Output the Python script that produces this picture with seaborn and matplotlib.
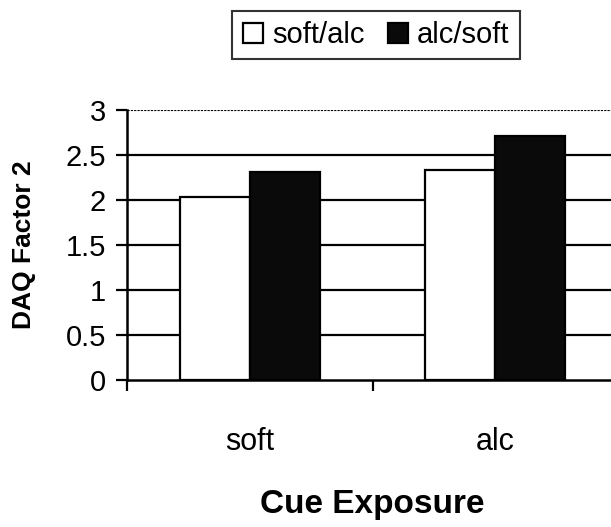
import matplotlib
matplotlib.use("Agg")
import matplotlib.pyplot as plt
import seaborn as sns
import pandas as pd
from matplotlib.ticker import FixedLocator

categories = ["soft", "alc"]
series = ["soft/alc", "alc/soft"]
soft_alc = [2.03, 2.33]
alc_soft = [2.31, 2.71]
yticks = [0, 0.5, 1, 1.5, 2, 2.5, 3]
ytick_labels = ["0", "0.5", "1", "1.5", "2", "2.5", "3"]

df = pd.DataFrame({
    "Cue Exposure": categories * 2,
    "group": [series[0]] * 2 + [series[1]] * 2,
    "value": soft_alc + alc_soft,
})

sns.set_style("white")
plt.rcParams["font.family"] = ["Liberation Sans", "DejaVu Sans"]
plt.rcParams["text.color"] = "black"
plt.rcParams["axes.labelcolor"] = "black"
plt.rcParams["xtick.color"] = "black"
plt.rcParams["ytick.color"] = "black"

fig = plt.figure(figsize=(6.11, 5.27), dpi=100)
ax = fig.add_axes([127 / 611, 1 - 380 / 527, (618 - 127) / 611, 270 / 527])

sns.barplot(data=df, x="Cue Exposure", y="value", hue="group",
            palette=["white", "#0a0a0a"], edgecolor="black", linewidth=1.6,
            width=0.57, gap=0, ax=ax, zorder=3, legend=True)

ax.set_ylim(0, 3)
ax.set_xlim(-0.5, 1.5)
for y in yticks[1:-1]:
    ax.axhline(y, color="black", lw=1.6, zorder=1)
ax.axhline(3, color="black", lw=0.8, ls=(0, (2, 1)), zorder=1)

ax.set_yticks(yticks)
ax.set_yticklabels(ytick_labels, fontsize=21)
ax.tick_params(axis="y", direction="out", length=8, width=1.6, colors="black", left=True, pad=7)
ax.tick_params(axis="x", which="major", length=0, pad=34, labelsize=22, colors="black")
ax.xaxis.set_minor_locator(FixedLocator([-0.5, 0.5, 1.5]))
ax.tick_params(axis="x", which="minor", direction="out", length=8, width=1.6, color="black", bottom=True)

for s in ["top", "right"]:
    ax.spines[s].set_visible(False)
for s in ["left", "bottom"]:
    ax.spines[s].set_color("black")
    ax.spines[s].set_linewidth(1.8)

ax.set_ylabel("DAQ Factor 2", fontsize=19, fontweight="bold", va="center", color="black")
ax.yaxis.set_label_coords((24 - 127) / 491, 0.5)
ax.set_xlabel("Cue Exposure", fontsize=24, fontweight="bold", va="center", color="black")
ax.xaxis.set_label_coords(0.5, (380 - 504) / 270)

handles, labels = ax.get_legend_handles_labels()
ax.legend_.remove()
leg = fig.legend(handles, labels, loc="center", bbox_to_anchor=(376 / 611, 1 - 35 / 527),
                 ncol=2, fontsize=21, frameon=True, fancybox=False,
                 handlelength=0.7, handleheight=0.7, handletextpad=0.3,
                 columnspacing=0.8, borderpad=0.35, edgecolor="black", labelcolor="black")
leg.get_frame().set_linewidth(1.5)

fig.savefig("out.png", dpi=100)
